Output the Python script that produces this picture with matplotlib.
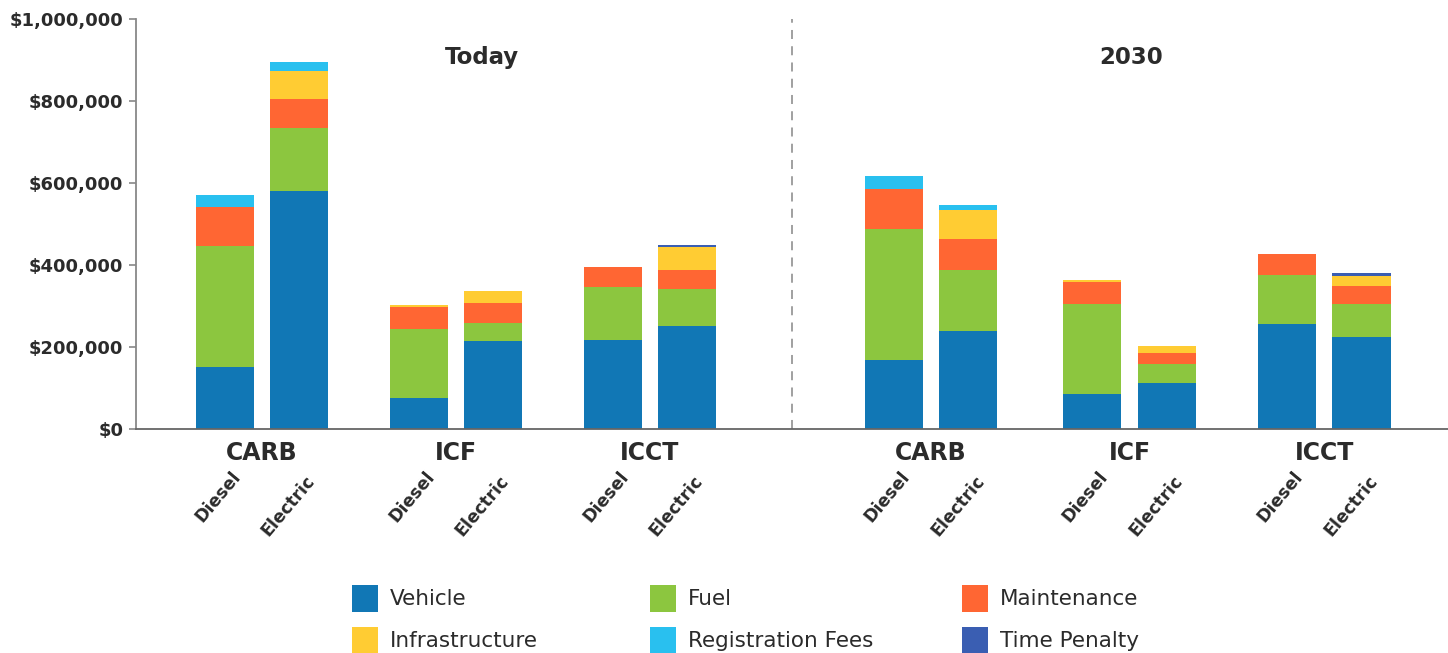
import matplotlib.pyplot as plt
from matplotlib.patches import Rectangle
from matplotlib.ticker import FuncFormatter

periods = ["Today", "2030"]
sources = ["CARB", "ICF", "ICCT"]
powertrains = ["Diesel", "Electric"]
components = ["Vehicle", "Fuel", "Maintenance", "Infrastructure", "Registration Fees", "Time Penalty"]
colors = ["#1177b5", "#8cc63f", "#ff6633", "#ffcc33", "#29c0ef", "#3a5eb2"]

# bar order: Today CARB D/E, ICF D/E, ICCT D/E, then 2030 same
vehicle = [151000, 580000, 76000, 215000, 216000, 251000,
           168000, 240000, 85000, 111000, 256000, 224000]
fuel = [295000, 154000, 168000, 43000, 131000, 90000,
        321000, 148000, 220000, 47000, 120000, 81000]
maintenance = [95000, 71000, 53000, 49000, 49000, 47000,
               97000, 75000, 53000, 27000, 51000, 45000]
infrastructure = [0, 69000, 5000, 29000, 0, 55000,
                  0, 70000, 5000, 18000, 0, 23000]
registration = [30000, 20000, 0, 0, 0, 0,
                32000, 13000, 0, 0, 0, 0]
time_penalty = [0, 0, 0, 0, 0, 6000,
                0, 0, 0, 0, 0, 7000]
series = [vehicle, fuel, maintenance, infrastructure, registration, time_penalty]

# x positions (in bar-spacing units)
pair_starts = [0, 2.6, 5.2, 8.97, 11.63, 14.24]
xs = []
for p in pair_starts:
    xs += [p, p + 1]

fig = plt.figure(figsize=(14.48, 6.53), dpi=100)
ax = fig.add_axes([136 / 1448, 1 - 429 / 653, 1 - 136 / 1448, 410 / 653])

bottom = [0] * len(xs)
for vals, col, name in zip(series, colors, components):
    ax.bar(xs, vals, bottom=bottom, width=0.78, color=col, label=name)
    bottom = [b + v for b, v in zip(bottom, vals)]

ax.set_ylim(0, 1000000)
ax.set_xlim(-1.19, 16.4)
ax.set_yticks(range(0, 1000001, 200000))
ax.yaxis.set_major_formatter(FuncFormatter(lambda v, _: f"${v:,.0f}"))
for lab in ax.get_yticklabels():
    lab.set_fontweight("bold")
ax.tick_params(axis="y", labelsize=13, length=5, width=1.2, pad=4,
               colors="#888888", labelcolor="#2b2b2b")
ax.set_xticks([])
for s in ["top", "right"]:
    ax.spines[s].set_visible(False)
ax.spines["left"].set_color("#888888")
ax.spines["bottom"].set_color("#666666")
ax.spines["left"].set_linewidth(1.3)
ax.spines["bottom"].set_linewidth(1.3)

ax.axvline(7.6, color="#999999", linestyle=(0, (5, 4)), linewidth=1.3)

ax.text(3.45, 905000, periods[0], ha="center", va="center", fontsize=16.5, fontweight="bold", color="#2b2b2b")
ax.text(12.15, 905000, periods[1], ha="center", va="center", fontsize=16.5, fontweight="bold", color="#2b2b2b")

for i, p in enumerate(pair_starts):
    ax.text(p + 0.5, -58000, sources[i % 3], ha="center", va="center", fontsize=17,
            fontweight="bold", color="#2b2b2b")
    for j, pt in enumerate(powertrains):
        ax.text(p + j + 0.17, -108000 - j * 10000, pt, ha="right", va="center", rotation=50,
                rotation_mode="anchor", fontsize=12.5, fontweight="bold", color="#2b2b2b")

# legend laid out like the original, three columns by two rows
leg_x = [352, 650, 962]
leg_y = [585, 627]
order = [[0, 1, 2], [3, 4, 5]]
for r, row in enumerate(order):
    for c, k in enumerate(row):
        x0 = leg_x[c] / 1448
        y0 = 1 - (leg_y[r] + 27) / 653
        fig.add_artist(Rectangle((x0, y0), 26 / 1448, 27 / 653, transform=fig.transFigure,
                                 color=colors[k], lw=0))
        fig.text((leg_x[c] + 38) / 1448, 1 - (leg_y[r] + 14) / 653, components[k],
                 ha="left", va="center", fontsize=15.5, color="#2b2b2b")

fig.savefig("out.png", dpi=100)
